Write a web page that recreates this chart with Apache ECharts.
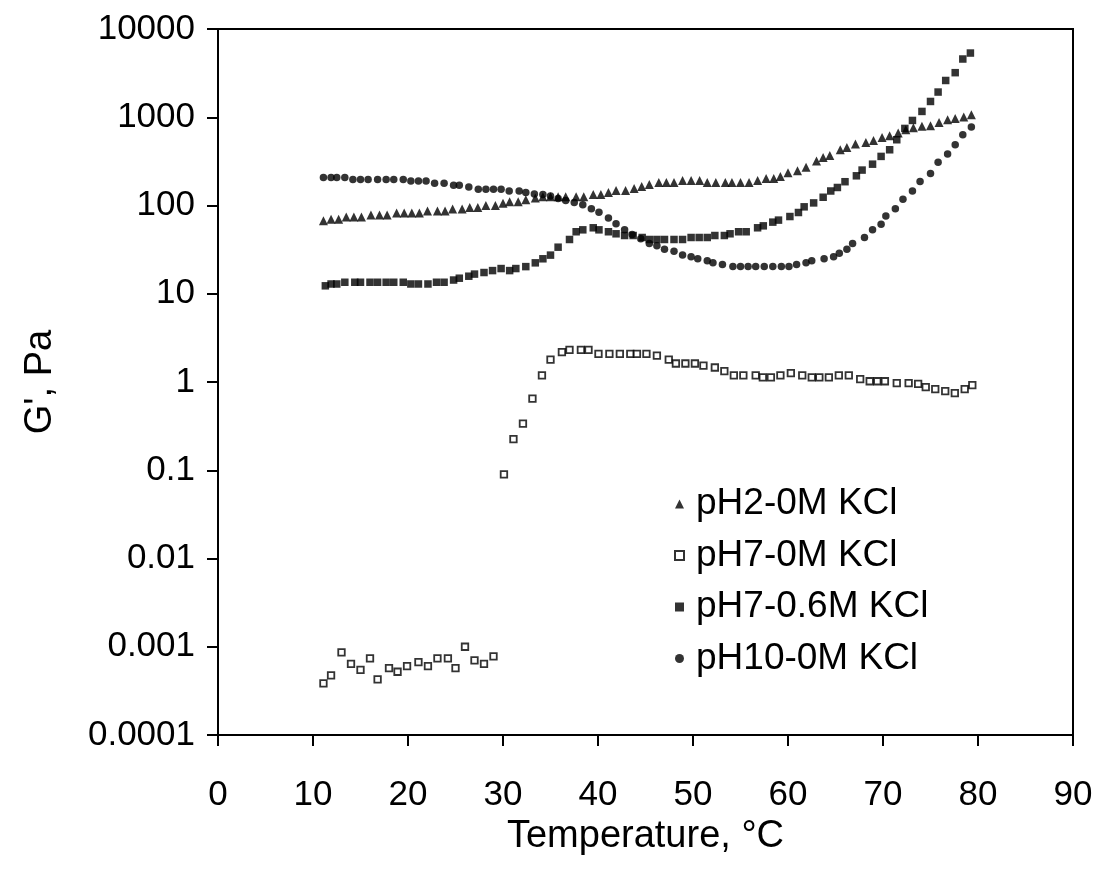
<!DOCTYPE html>
<html>
<head>
<meta charset="utf-8">
<script src="https://cdn.jsdelivr.net/npm/echarts@6/dist/echarts.min.js"></script>
<style>
html,body{margin:0;padding:0;background:#fff;}
#chart{width:1098px;height:873px;}
</style>
</head>
<body>
<div id="chart"></div>
<script>
// ---- data ----
const seriesNames = ['pH2-0M KCl', 'pH7-0M KCl', 'pH7-0.6M KCl', 'pH10-0M KCl'];
const xTicks = [0, 10, 20, 30, 40, 50, 60, 70, 80, 90];
const yTicks = [0.0001, 0.001, 0.01, 0.1, 1, 10, 100, 1000, 10000];

const pH2_0M = [
  [11.1,67],[11.9,70],[12.7,70],[13.5,74],[14.3,74],[15.1,74],[16.1,78],[17.0,78],[17.8,78],[18.8,82],
  [19.6,82],[20.4,82],[21.2,82],[22.05,86.5],[23.1,86.5],[23.9,86.5],[24.7,91],[25.7,91],[26.5,95],[27.35,95],
  [28.2,100],[29.2,100],[30.0,106],[30.7,110],[31.6,110],[32.4,116],[33.4,122],[34.2,126],[35.0,126],[35.8,126],
  [36.6,126],[37.7,126],[38.5,126],[39.5,133],[40.3,133],[41.1,140],[41.9,148],[42.9,148],[43.8,156],[44.6,164],
  [45.4,173],[46.4,182],[47.2,182],[48.0,182],[48.9,192],[49.8,192],[50.7,192],[51.5,182],[52.4,182],[53.4,182],
  [54.1,182],[55.0,182],[55.9,182],[56.8,192],[57.7,202],[58.5,202],[59.2,213],[60.0,235],[61.0,247],[61.9,272],
  [63.0,319],[63.7,350],[64.4,369],[65.5,428],[66.2,455],[67.1,497],[68.2,518],[69.0,546],[69.9,590],[70.7,617],
  [71.6,662],[72.4,721],[73.2,760],[74.1,790],[75.0,801],[75.9,873],[76.8,937],[77.6,970],[78.5,1005],[79.3,1067]
];

const pH7_0M = [
  [11.1,0.000385],[11.9,0.000474],[13.0,0.000865],[14.0,0.00064],[15.0,0.000548],[16.0,0.000738],[16.8,0.000427],
  [18.0,0.000574],[18.9,0.000521],[19.9,0.000604],[21.1,0.000671],[22.1,0.000604],[23.1,0.000738],[24.2,0.000738],
  [25.0,0.000574],[26.0,0.001],[27.0,0.000701],[28.0,0.00064],[29.0,0.000778],
  [30.1,0.090],[31.1,0.225],[32.1,0.337],[33.1,0.648],[34.1,1.19],[35.0,1.79],[36.2,2.18],[37.0,2.31],[38.2,2.31],
  [39.0,2.31],[40.05,2.08],[41.2,2.08],[42.3,2.08],[43.4,2.08],[44.1,2.08],[45.1,2.08],[46.2,1.99],[47.45,1.79],
  [48.2,1.62],[49.2,1.62],[50.2,1.62],[51.1,1.53],[52.3,1.46],[53.3,1.33],[54.3,1.19],[55.3,1.19],[56.6,1.19],
  [57.35,1.13],[58.2,1.13],[59.2,1.19],[60.3,1.26],[61.5,1.19],[62.5,1.13],[63.3,1.13],[64.3,1.13],[65.35,1.19],
  [66.4,1.19],[67.6,1.08],[68.6,1.02],[69.4,1.02],[70.2,1.02],[71.45,0.97],[72.7,0.97],[73.7,0.95],[74.5,0.873],
  [75.5,0.83],[76.55,0.79],[77.56,0.75],[78.6,0.83],[79.4,0.92]
];

const pH7_06M = [
  [11.3,12.3],[11.9,12.9],[12.5,12.9],[13.35,13.5],[14.4,13.5],[15.0,13.5],[16.0,13.5],[16.8,13.5],[17.7,13.5],
  [18.5,13.5],[19.5,13.5],[20.3,12.9],[21.1,12.9],[22.1,12.9],[23.0,13.5],[23.8,13.5],[24.8,14.3],[25.4,15.0],
  [26.4,15.8],[27.0,16.7],[28.0,17.4],[28.9,18.3],[29.8,19.3],[30.7,18.3],[31.35,19.3],[32.4,20.3],[33.4,22.4],
  [34.2,24.9],[35.0,27.4],[35.8,33.7],[37.0,41.2],[37.7,50.4],[38.4,53],[39.5,55.9],[40.1,53],[41.1,50.4],
  [41.9,47.8],[42.8,45.7],[43.7,45.7],[44.65,43.4],[45.4,41.2],[46.2,41.2],[47.0,41.2],[48.0,41.2],[48.9,41.2],
  [49.8,43.4],[50.65,43.4],[51.5,43.4],[52.3,45.7],[53.3,45.7],[53.9,47.8],[54.8,50.4],[55.6,50.4],[56.8,55.9],
  [57.4,58.8],[58.4,64.8],[59.0,68.3],[60.2,75],[61.1,83.3],[61.7,96.6],[62.7,107],[63.7,124],[64.5,146],
  [65.2,160],[66.0,186],[67.2,217],[67.8,252],[68.9,294],[69.8,360],[70.7,428],[71.45,556],[72.3,747],
  [73.1,920],[74.1,1164],[75.0,1510],[75.8,1930],[76.6,2610],[77.6,3200],[78.4,4570],[79.2,5340]
];

const pH10_0M = [
  [11.1,208],[11.9,208],[12.5,208],[13.35,208],[14.2,197],[15.0,197],[15.8,197],[16.8,197],[17.7,197],[18.5,197],
  [19.5,197],[20.3,189],[21.1,189],[21.9,189],[22.8,179],[23.8,179],[24.8,170],[25.4,170],[26.4,162],[27.4,153],
  [28.2,153],[29.0,153],[29.8,153],[30.65,146],[31.7,146],[32.4,140],[33.3,135],[34.2,133],[35.0,128],[35.8,120],
  [36.6,114],[37.5,108],[38.4,102],[39.3,92],[40.1,84],[41.1,72],[41.9,62],[42.8,53],[43.6,47],[44.5,42],
  [45.4,37],[46.2,35],[47.0,32],[48.0,30.4],[48.9,27.4],[49.8,26.2],[50.5,24.9],[51.5,23.6],[52.1,22.4],[53.1,21.4],
  [54.2,20.3],[55.0,20.3],[55.8,20.3],[56.6,20.3],[57.5,20.3],[58.4,20.3],[59.3,20.3],[60.1,20.3],[60.9,21.4],[61.9,22.4],
  [62.5,23.6],[63.8,24.9],[64.8,26.2],[65.4,28.8],[66.2,32],[66.8,37],[68.05,43.4],[68.9,53],[69.8,61.5],[70.3,76],
  [71.3,92],[72.1,118],[73.1,146],[73.9,187],[75.0,231],[75.8,310],[76.8,383],[77.6,488],[78.4,634],[79.3,774]
];

// ---- chart ----
const FONT = "'Liberation Sans', Arial, sans-serif";
const chart = echarts.init(document.getElementById('chart'), null, {renderer: 'canvas'});

function fmtLog(v) {
  return String(Number(Number(v).toPrecision(1)));
}

const option = {
  backgroundColor: '#fff',
  animation: false,
  textStyle: {fontFamily: FONT, color: '#000'},
  grid: {
    left: 218, top: 29, width: 855, height: 706,
    show: true, borderColor: '#000', borderWidth: 2, backgroundColor: 'transparent'
  },
  legend: {
    orient: 'vertical',
    left: 669, top: 479,
    itemWidth: 9, itemHeight: 9,
    itemGap: 11.5,
    textStyle: {fontFamily: FONT, fontSize: 37, color: '#000', lineHeight: 40, padding: [0, 0, 0, 7]},
    data: seriesNames
  },
  xAxis: {
    type: 'value', min: 0, max: 90, interval: 10,
    name: 'Temperature, °C', nameLocation: 'middle', nameGap: 77,
    nameTextStyle: {fontFamily: FONT, fontSize: 38, color: '#000'},
    axisLine: {show: true, lineStyle: {color: '#000', width: 2}},
    axisTick: {show: true, inside: false, length: 11, lineStyle: {color: '#000', width: 2}},
    axisLabel: {fontFamily: FONT, fontSize: 35, color: '#000', margin: 43,
      formatter: v => String(v)},
    splitLine: {show: false}
  },
  yAxis: {
    type: 'log', logBase: 10, min: 0.0001, max: 10000,
    name: "G', Pa", nameLocation: 'middle', nameGap: 158, nameRotate: 90,
    nameTextStyle: {fontFamily: FONT, fontSize: 38, color: '#000'},
    axisLine: {show: true, lineStyle: {color: '#000', width: 2}},
    axisTick: {show: true, inside: false, length: 11, lineStyle: {color: '#000', width: 2}},
    axisLabel: {fontFamily: FONT, fontSize: 35, color: '#000', margin: 23, formatter: fmtLog},
    splitLine: {show: false},
    minorTick: {show: false}
  },
  series: [
    {
      name: seriesNames[0], type: 'scatter', data: pH2_0M,
      symbol: 'triangle', symbolSize: 9,
      itemStyle: {color: '#000'}
    },
    {
      name: seriesNames[1], type: 'scatter', data: pH7_0M,
      symbol: 'rect', symbolSize: 6.5,
      itemStyle: {color: '#fff', borderColor: '#000', borderWidth: 1.8}
    },
    {
      name: seriesNames[2], type: 'scatter', data: pH7_06M,
      symbol: 'rect', symbolSize: 7.5,
      itemStyle: {color: '#000'}
    },
    {
      name: seriesNames[3], type: 'scatter', data: pH10_0M,
      symbol: 'circle', symbolSize: 7.5,
      itemStyle: {color: '#000'}
    }
  ]
};
chart.setOption(option);
</script>
</body>
</html>
